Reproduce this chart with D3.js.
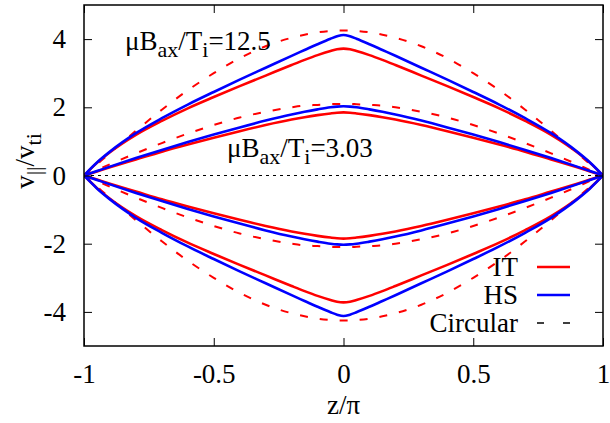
<!DOCTYPE html>
<html>
<head>
<meta charset="utf-8">
<script src="https://cdn.jsdelivr.net/npm/d3@7"></script>
<style>
  body { margin: 0; background: #fff; }
  svg text { font-family: "Liberation Serif", "Times New Roman", serif; fill: #000; }
</style>
</head>
<body>
<svg width="610" height="423"></svg>
<script>
// z/pi sample points
var zs = [-1, -0.95, -0.9, -0.8, -0.7, -0.6, -0.5, -0.4, -0.3, -0.2, -0.15, -0.1, -0.05, -0.025, 0,
          0.025, 0.05, 0.1, 0.15, 0.2, 0.3, 0.4, 0.5, 0.6, 0.7, 0.8, 0.9, 0.95, 1];

// muB/T = 12.5 (upper branch; the lower branch is drawn as -v)
var hs125   = [0, 0.38, 0.70, 1.24, 1.68, 2.08, 2.45, 2.81, 3.16, 3.51, 3.68, 3.85, 4.01, 4.08, 4.12,
               4.08, 4.01, 3.85, 3.68, 3.51, 3.16, 2.81, 2.45, 2.08, 1.68, 1.24, 0.70, 0.38, 0];
var it125   = [0, 0.37, 0.68, 1.19, 1.60, 1.97, 2.30, 2.62, 2.93, 3.24, 3.39, 3.53, 3.65, 3.70, 3.72,
               3.70, 3.65, 3.53, 3.39, 3.24, 2.93, 2.62, 2.30, 1.97, 1.60, 1.19, 0.68, 0.37, 0];
var circ125 = [0, 0.33, 0.66, 1.31, 1.93, 2.50, 3.00, 3.44, 3.79, 4.04, 4.13, 4.20, 4.24, 4.25, 4.25,
               4.25, 4.24, 4.20, 4.13, 4.04, 3.79, 3.44, 3.00, 2.50, 1.93, 1.31, 0.66, 0.33, 0];

// muB/T = 3.03
var hs303   = [0, 0.13, 0.26, 0.51, 0.75, 0.98, 1.20, 1.41, 1.61, 1.79, 1.87, 1.94, 2.00, 2.02, 2.03,
               2.02, 2.00, 1.94, 1.87, 1.79, 1.61, 1.41, 1.20, 0.98, 0.75, 0.51, 0.26, 0.13, 0];
var it303   = [0, 0.12, 0.24, 0.47, 0.70, 0.91, 1.11, 1.30, 1.48, 1.64, 1.71, 1.77, 1.82, 1.84, 1.85,
               1.84, 1.82, 1.77, 1.71, 1.64, 1.48, 1.30, 1.11, 0.91, 0.70, 0.47, 0.24, 0.12, 0];
var circ303 = [0, 0.16, 0.33, 0.65, 0.95, 1.23, 1.48, 1.70, 1.87, 2.00, 2.05, 2.07, 2.09, 2.10, 2.10,
               2.10, 2.09, 2.07, 2.05, 2.00, 1.87, 1.70, 1.48, 1.23, 0.95, 0.65, 0.33, 0.16, 0];

var xTicks = [-1, -0.5, 0, 0.5, 1];
var xTickLabels = ["-1", "-0.5", "0", "0.5", "1"];
var yTicks = [-4, -2, 0, 2, 4];
var yTickLabels = ["-4", "-2", "0", "2", "4"];

var legendNames = ["IT", "HS", "Circular"];

var svg = d3.select("svg");
var pl = 84, pr = 603, pt = 5, pb = 346;
var fs = 27, sub = 22;
var serif = "'Liberation Serif', 'Times New Roman', serif";

var x = d3.scaleLinear().domain([-1, 1]).range([pl, pr]);
var y = d3.scaleLinear().domain([-5, 5]).range([pb, pt]);

svg.append("clipPath").attr("id", "clip")
  .append("rect").attr("x", pl).attr("y", pt)
  .attr("width", pr - pl).attr("height", pb - pt);

// zero line
svg.append("line")
  .attr("x1", x(-1)).attr("x2", x(1))
  .attr("y1", y(0)).attr("y2", y(0))
  .attr("stroke", "#000").attr("stroke-width", 1)
  .attr("stroke-dasharray", "3,4");

var series = [
  {v: circ125, color: "#ff0000", dash: "8,12", w: 2},
  {v: circ303, color: "#ff0000", dash: "8,12", w: 2},
  {v: it125, color: "#ff0000", dash: null, w: 2.6},
  {v: it303, color: "#ff0000", dash: null, w: 2.6},
  {v: hs125, color: "#0000ff", dash: null, w: 2.6},
  {v: hs303, color: "#0000ff", dash: null, w: 2.6}
];

var plot = svg.append("g").attr("clip-path", "url(#clip)");

[1, -1].forEach(function(sgn) {
  series.forEach(function(s) {
    var line = d3.line()
      .x(function(d, i) { return x(zs[i]); })
      .y(function(d) { return y(sgn * d); })
      .curve(d3.curveMonotoneX);
    plot.append("path")
      .attr("d", line(s.v))
      .attr("fill", "none")
      .attr("stroke", s.color)
      .attr("stroke-width", s.w)
      .attr("stroke-dasharray", s.dash)
      .attr("stroke-linejoin", "round");
  });
});

// frame
svg.append("rect")
  .attr("x", pl).attr("y", pt)
  .attr("width", pr - pl).attr("height", pb - pt)
  .attr("fill", "none").attr("stroke", "#000").attr("stroke-width", 1.5);

// axes, ticks inward on all four sides
var tl = 8;
var bAxis = svg.append("g").attr("transform", "translate(0," + pb + ")")
  .call(d3.axisBottom(x).tickValues(xTicks).tickSize(-tl).tickPadding(18)
    .tickFormat(function(d, i) { return xTickLabels[i]; }));
var tAxis = svg.append("g").attr("transform", "translate(0," + pt + ")")
  .call(d3.axisTop(x).tickValues(xTicks).tickSize(-tl).tickFormat(""));
var lAxis = svg.append("g").attr("transform", "translate(" + pl + ",0)")
  .call(d3.axisLeft(y).tickValues(yTicks).tickSize(-tl).tickPadding(18)
    .tickFormat(function(d, i) { return yTickLabels[i]; }));
var rAxis = svg.append("g").attr("transform", "translate(" + pr + ",0)")
  .call(d3.axisRight(y).tickValues(yTicks).tickSize(-tl).tickFormat(""));

[bAxis, tAxis, lAxis, rAxis].forEach(function(a) {
  a.attr("font-family", serif);
  a.select(".domain").remove();
  a.selectAll(".tick line").attr("stroke", "#000").attr("stroke-width", 1);
  a.selectAll("text").attr("font-size", fs).attr("fill", "#000");
});
bAxis.selectAll("text").attr("dy", "0.71em");

// axis titles
svg.append("text").attr("x", (pl + pr) / 2).attr("y", 414)
  .attr("text-anchor", "middle").attr("font-size", fs).text("z/\u03c0");

var yl = svg.append("text")
  .attr("transform", "translate(34,161) rotate(-90)")
  .attr("text-anchor", "middle").attr("font-size", fs);
yl.append("tspan").text("v");
yl.append("tspan").attr("font-size", sub).attr("dy", 7).text("||");
yl.append("tspan").attr("dy", -7).text("/v");
yl.append("tspan").attr("font-size", sub).attr("dy", 7).text("ti");

// annotations
function annot(xp, yp, val) {
  var t = svg.append("text").attr("x", xp).attr("y", yp).attr("font-size", fs);
  t.append("tspan").text("\u03bcB");
  t.append("tspan").attr("font-size", sub).attr("dy", 7).text("ax");
  t.append("tspan").attr("dy", -7).text("/T");
  t.append("tspan").attr("font-size", sub).attr("dy", 7).text("i");
  t.append("tspan").attr("dy", -7).text("=" + val);
}
annot(125, 50, "12.5");
annot(227, 157, "3.03");

// legend
var legY = [267, 295, 323];
var legStyle = [
  {color: "#ff0000", dash: null, w: 2.6},
  {color: "#0000ff", dash: null, w: 2.6},
  {color: "#000000", dash: "7,19", w: 1.5}
];
legendNames.forEach(function(n, i) {
  svg.append("text").attr("x", 518).attr("y", legY[i] + 9)
    .attr("text-anchor", "end").attr("font-size", fs).text(n);
  svg.append("line").attr("x1", 537).attr("x2", 570)
    .attr("y1", legY[i]).attr("y2", legY[i])
    .attr("stroke", legStyle[i].color).attr("stroke-width", legStyle[i].w)
    .attr("stroke-dasharray", legStyle[i].dash);
});
</script>
</body>
</html>
